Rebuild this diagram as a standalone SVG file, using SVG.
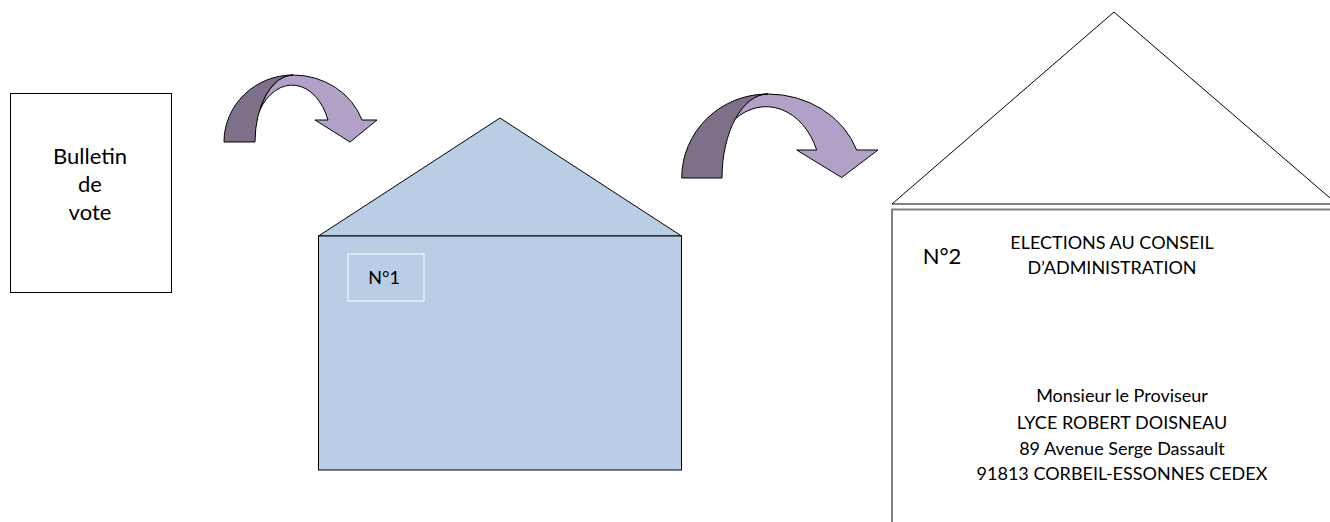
<svg xmlns="http://www.w3.org/2000/svg" width="1330" height="522" viewBox="0 0 1330 522">
<style>
.t{font-family:Lato,"Noto Sans","Liberation Sans",sans-serif;fill:#000;text-anchor:middle}
.dark{fill:#7f7089;stroke:#000;stroke-width:1}
.light{fill:#b1a1c7;stroke:#000;stroke-width:1}
.line{stroke:#000;stroke-width:1}
</style>
<rect width="1330" height="522" fill="#fff"/>
<g id="bulletin">
<rect x="10.5" y="93.5" width="161" height="199" fill="#fff" class="line"/>
<text class="t" font-size="22" x="90" y="164">Bulletin</text>
<text class="t" font-size="22" x="90" y="192">de</text>
<text class="t" font-size="22" x="90" y="220">vote</text>
</g>
<g id="connectors">
<g id="arrow1">
<path class="light" d="M293,75 A73,67 0 0 1 362,120 L377,120 L350,142 L315,120 L328,120 A39,57 0 0 0 259.7,110.3 A38,67 0 0 1 293,75 Z"/>
<path class="dark" d="M224,142 A69,67 0 0 1 293,75 A38,67 0 0 0 255,142 Z"/>
</g>
<g id="arrow2">
<path class="light" d="M768,94 A94,84 0 0 1 856.7,150 L878,150 L841.7,177.5 L796.7,150 L816.7,150 A55,71 0 0 0 734.5,119.5 A46,84 0 0 1 768,94 Z"/>
<path class="dark" d="M681.7,178 A86,84 0 0 1 768,94 A46,84 0 0 0 722,178 Z"/>
</g>
</g>
<g id="envelope1">
<path d="M318.5,236 L500,118 L681.5,236 Z" fill="#b9cde5" class="line"/>
<rect x="318.5" y="236" width="363" height="234" fill="#b9cde5" class="line"/>
<rect x="348" y="254" width="76" height="47" fill="none" stroke="#fff" stroke-width="1"/>
<text class="t" font-size="18" x="384" y="284">N°1</text>
</g>
<g id="envelope2">
<path d="M892,204 L1114,12 L1337,204 Z" fill="#fff" class="line"/>
<rect x="892" y="209.5" width="460" height="330" fill="#fff" stroke="#7f7f7f" stroke-width="2"/>
<text class="t" font-size="22" x="942" y="264">N°2</text>
<text class="t" font-size="18" x="1112" y="249">ELECTIONS AU CONSEIL</text>
<text class="t" font-size="18" x="1112" y="274">D’ADMINISTRATION</text>
<text class="t" font-size="18" x="1122" y="402">Monsieur le Proviseur</text>
<text class="t" font-size="18" x="1122" y="429">LYCE ROBERT DOISNEAU</text>
<text class="t" font-size="18" x="1122" y="455">89 Avenue Serge Dassault</text>
<text class="t" font-size="18" x="1122" y="480">91813 CORBEIL-ESSONNES CEDEX</text>
</g>
</svg>
